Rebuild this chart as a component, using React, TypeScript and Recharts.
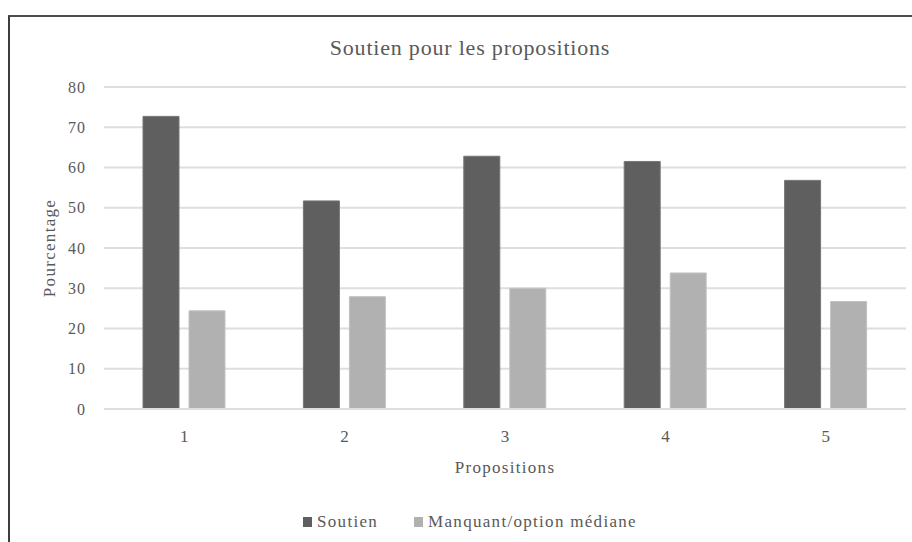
import { BarChart, Bar, XAxis, YAxis, CartesianGrid, Label } from "recharts";

const propositions = ["1", "2", "3", "4", "5"];
const soutien = [72.7, 51.7, 62.8, 61.5, 56.8];
const manquant = [24.4, 27.9, 30.0, 33.8, 26.7];
const yTicks = [0, 10, 20, 30, 40, 50, 60, 70, 80];

const SERIES = [
  { key: "soutien", name: "Soutien", fill: "#5f5f5f", stroke: "#767676" },
  { key: "manquant", name: "Manquant/option médiane", fill: "#b1b1b1", stroke: "#c2c2c2" },
];

const FONT = "'Liberation Serif', 'Times New Roman', serif";
const TEXT = "#595959";

const data = propositions.map((p, i) => ({
  name: p,
  soutien: soutien[i],
  manquant: manquant[i],
}));

export default function App() {
  return (
    <div
      style={{
        position: "absolute",
        left: 0,
        top: 0,
        width: 912,
        height: 542,
        background: "#fff",
        overflow: "hidden",
        fontFamily: FONT,
      }}
    >
      {/* chart frame, cut off on the right and bottom */}
      <div
        style={{
          position: "absolute",
          left: 8,
          top: 15,
          width: 960,
          height: 600,
          borderTop: "2px solid #4d4d4d",
          borderLeft: "2px solid #3d3d3d",
        }}
      />
      <div
        style={{
          position: "absolute",
          left: 0,
          width: 940,
          top: 33,
          lineHeight: "30px",
          textAlign: "center",
          fontSize: 22,
          letterSpacing: 0.8,
          color: TEXT,
        }}
      >
        Soutien pour les propositions
      </div>

      <div style={{ position: "absolute", left: 0, top: 0 }}>
        <BarChart
          width={912}
          height={542}
          data={data}
          margin={{ top: 87, right: 6, left: 0, bottom: 63 }}
          barSize={36}
          barGap={10}
        >
          <CartesianGrid vertical={false} stroke="#dedede" strokeWidth={2} />
          <XAxis
            dataKey="name"
            height={70}
            tickLine={false}
            tickSize={0}
            tickMargin={21}
            axisLine={{ stroke: "#dedede", strokeWidth: 2 }}
            tick={{ fill: TEXT, fontSize: 17, fontFamily: FONT }}
          >
            <Label
              value="Propositions"
              position="insideBottom"
              offset={6}
              style={{ fill: TEXT, fontSize: 17, fontFamily: FONT, letterSpacing: 1.3 }}
            />
          </XAxis>
          <YAxis
            width={104}
            domain={[0, 80]}
            ticks={yTicks}
            interval={0}
            axisLine={false}
            tickLine={false}
            tickSize={0}
            tickMargin={18}
            tick={{ fill: TEXT, fontSize: 16, fontFamily: FONT, letterSpacing: 1 }}
          >
            <Label
              content={({ viewBox }: any) => {
                const cy = viewBox.y + viewBox.height / 2;
                return (
                  <text
                    x={49}
                    y={cy}
                    transform={`rotate(-90, 49, ${cy})`}
                    textAnchor="middle"
                    dominantBaseline="central"
                    fill={TEXT}
                    fontSize={17}
                    fontFamily={FONT}
                    letterSpacing={1.3}
                  >
                    Pourcentage
                  </text>
                );
              }}
            />
          </YAxis>
          {SERIES.map((s) => (
            <Bar
              key={s.key}
              dataKey={s.key}
              name={s.name}
              fill={s.fill}
              stroke={s.stroke}
              strokeWidth={1}
              isAnimationActive={false}
            />
          ))}
        </BarChart>
      </div>

      <div
        style={{
          position: "absolute",
          left: 0,
          width: 940,
          top: 512,
          height: 20,
          display: "flex",
          justifyContent: "center",
          alignItems: "center",
          gap: 36,
          fontSize: 17,
          letterSpacing: 1.3,
          color: TEXT,
        }}
      >
        {SERIES.map((s) => (
          <div key={s.key} style={{ display: "flex", alignItems: "center", gap: 5 }}>
            <div style={{ width: 9, height: 10, background: s.fill }} />
            <span>{s.name}</span>
          </div>
        ))}
      </div>
    </div>
  );
}
